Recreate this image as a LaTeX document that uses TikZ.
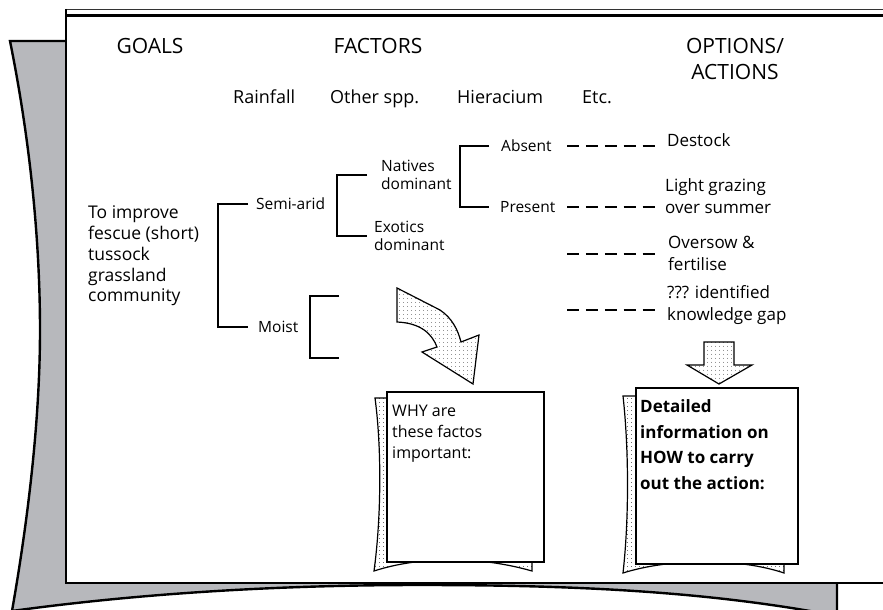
\documentclass[tikz,border=0pt]{standalone}
\usepackage{fontspec}
\setmainfont{Open Sans}
\usetikzlibrary{patterns.meta}
\definecolor{pagegray}{HTML}{B7B8BC}
\begin{document}
\begin{tikzpicture}[x=1pt,y=-1pt,
  hdr/.style={font=\fontsize{21}{26}\selectfont, inner sep=0pt, align=center},
  row/.style={font=\fontsize{18}{21}\selectfont, inner sep=0pt, anchor=base west},
  lbl/.style={font=\fontsize{17.5}{20.7}\selectfont, align=left, inner sep=0pt, anchor=west},
  small/.style={font=\fontsize{15.5}{18.7}\selectfont, align=left, inner sep=0pt, anchor=west},
  opt/.style={font=\fontsize{17}{22}\selectfont, align=left, inner sep=0pt, anchor=west},
  bracket/.style={line width=1.1pt},
  dashline/.style={line width=1.1pt, dash pattern=on 12.4pt off 6.5pt},
  dotfill/.style={fill=white, postaction={pattern={Dots[distance=4pt,radius=0.45pt]}}},
  bigarrow/.style={draw, line width=1.2pt, line join=miter, dotfill},
  sheet/.style={draw, line width=1.4pt, fill=white},
  backsheet/.style={draw, line width=1.2pt, dotfill},
]
\useasboundingbox (0,0) rectangle (883,610);
\clip (0,0) rectangle (883,610);

% grey sheet lying behind the board
\filldraw[fill=pagegray, line width=2.4pt]
  (10,41) -- (837,41) -- (837,615) -- (832,615)
  .. controls (700,590) and (560,585) .. (420,585)
  .. controls (290,585) and (150,592) .. (12,611)
  .. controls (28,520) and (40,420) .. (40,330)
  .. controls (40,240) and (30,140) .. (10,41) -- cycle;

% the white board with its double top edge
\filldraw[fill=white, line width=2.2pt] (66,15.5) rectangle (900,583);
\draw[line width=1.2pt, black!80] (66,9.6) -- (900,9.6);
\draw[line width=2.2pt] (66,9) -- (66,16);

% column headings
\node[hdr] (goals) at (150,46) {GOALS};
\node[hdr] (factors) at (378,46) {FACTORS};
\node[hdr] (options) at (735,59) {OPTIONS/\\ACTIONS};

\node[row] (rain) at (233,103) {Rainfall};
\node[row] (other) at (330,103) {Other spp.};
\node[row] (hier) at (457,103) {Hieracium};
\node[row] (etc) at (582,103) {Etc.};

% goal
\node[lbl] (goal) at (88,256) {To improve\\fescue (short)\\tussock\\grassland\\community};

% factor tree
\node[small] (semi) at (256,204) {Semi-arid};
\node[small] (moist) at (258,327) {Moist};
\node[small] (nat) at (381,175) {Natives\\dominant};
\node[small] (exo) at (374,236) {Exotics\\dominant};
\node[small] (abs) at (501,146) {Absent};
\node[small] (pres) at (500,207) {Present};

\draw[bracket] ([xshift=-8pt]semi.west) -- ++(-30,0) |- ([xshift=-10pt]moist.west);
\draw[bracket] ([xshift=-14pt]nat.west) -- ++(-30,0) |- ([xshift=-7pt]exo.west);
\draw[bracket] ([shift={(81,-31)}]moist.west) -- ++(-29,0) -- ++(0,62) -- ++(29,0);
\draw[bracket] ([xshift=-12pt]abs.west) -- ++(-29,0) |- ([xshift=-11pt]pres.west);

% options
\node[opt] (dest) at (667,140) {Destock};
\node[opt] (graze) at (665,196) {Light grazing\\over summer};
\node[opt] (over) at (668,253) {Oversow \&\\fertilise};
\node[opt] (gap) at (667,305) {??? identified\\knowledge gap};

\coordinate (d1) at (567,146);
\coordinate (d2) at (567,207);
\coordinate (d3) at (567,254);
\coordinate (d4) at (567,310);
\foreach \d in {d1,d2,d3,d4}
  \draw[dashline] (\d) -- ++(88,0);

% curved arrow towards the WHY sheet
\path[bigarrow] (397,288) -- (440,310)
  .. controls (452,318) and (458,330) .. (461,342)
  -- (479,335) -- (473,384) -- (422,352) -- (437,347)
  .. controls (432,334) and (421,323) .. (397,322) -- cycle;

% block arrow towards the HOW sheet
\path[bigarrow] (704,342) -- (734,342) -- (734,365) -- (752,365)
  -- (719,384) -- (687,365) -- (704,365) -- cycle;

% WHY sheet
\path[backsheet] (375,398) -- (532,398) -- (532,571)
  .. controls (480,556) and (420,556) .. (374,571)
  .. controls (381,520) and (382,450) .. (375,398) -- cycle;
\path[sheet] (387,392) rectangle (544,562);
\node[font=\fontsize{16}{21}\selectfont, align=left, inner sep=0pt, anchor=west] (why) at (392,434)
  {WHY are\\these factos\\important:};

% HOW sheet
\path[backsheet] (623,396) -- (784,396) -- (784,573)
  .. controls (740,558) and (670,558) .. (623,573)
  .. controls (629,520) and (629,450) .. (623,396) -- cycle;
\path[sheet] (636,388) rectangle (798,564);
\node[font=\fontsize{17}{25.7}\selectfont\bfseries, align=left, inner sep=0pt, anchor=west] (how) at (640,444.5)
  {Detailed\\information on\\HOW to carry\\out the action:};
\end{tikzpicture}
\end{document}
